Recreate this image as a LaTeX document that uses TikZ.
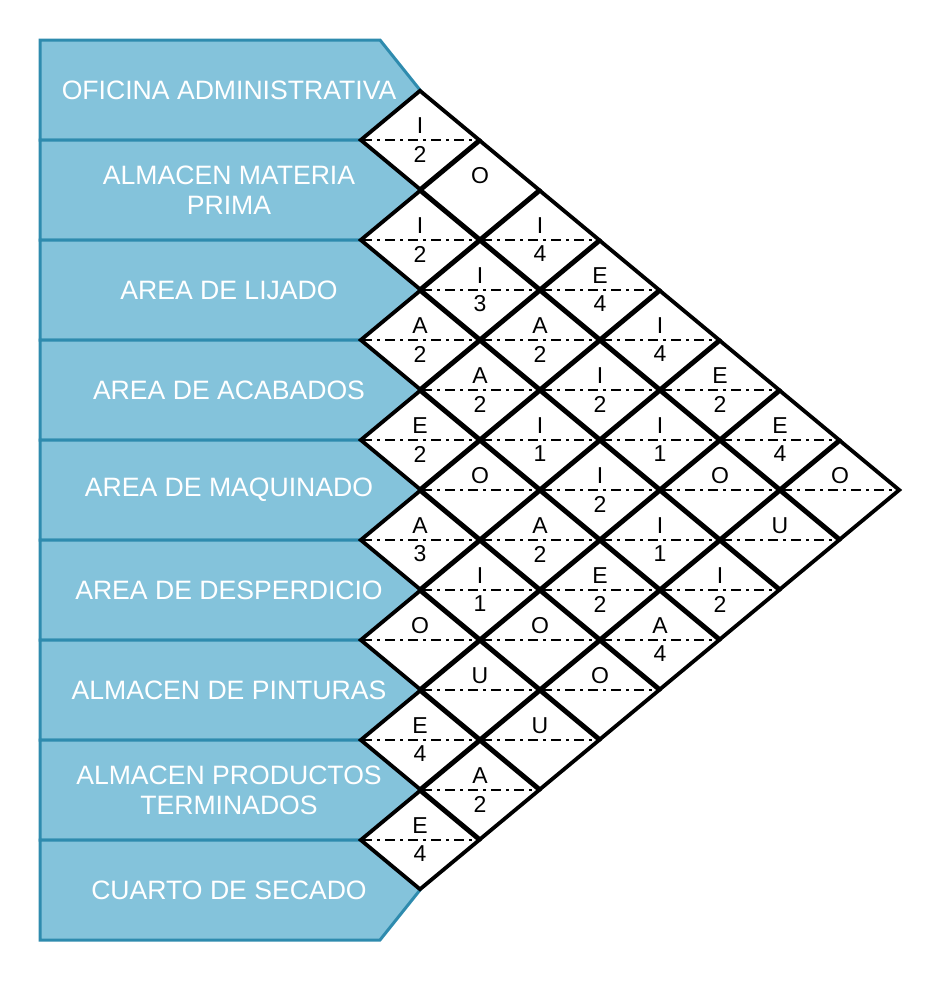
\documentclass[tikz,border=0pt]{standalone}
\usepackage{fontspec}
\setmainfont{Liberation Sans}
\usetikzlibrary{shapes.geometric,positioning}
\definecolor{boxfill}{RGB}{132,195,219}
\definecolor{boxline}{RGB}{46,139,174}

\begin{document}
\begin{tikzpicture}[x=0.5pt,y=-0.5pt,
  dept/.style={draw=boxline, fill=boxfill, line width=1.5pt},
  depttext/.style={text=white, align=center, inner sep=0pt, font=\fontsize{13.3}{15}\selectfont},
  rel/.style={diamond, draw, fill=white, line width=1.9pt, minimum width=60pt, minimum height=50pt, inner sep=0pt},
  relline/.style={line width=1.1pt, dash pattern=on 5pt off 2.5pt on 1.5pt off 2.5pt, shorten <=2pt, shorten >=2pt},
  reltext/.style={inner sep=0pt, font=\fontsize{11.5}{13}\selectfont}]
\useasboundingbox (0,0) rectangle (940,981);
\foreach \k/\name in {1/OFICINA ADMINISTRATIVA, 2/ALMACEN MATERIA\\PRIMA, 3/AREA DE LIJADO,
  4/AREA DE ACABADOS, 5/AREA DE MAQUINADO, 6/AREA DE DESPERDICIO, 7/ALMACEN DE PINTURAS,
  8/ALMACEN PRODUCTOS\\TERMINADOS, 9/CUARTO DE SECADO}
{
  \pgfmathsetmacro{\y}{40+100*(\k-1)}
  \draw[dept] (40,\y) -- (380,\y) -- (420,\y+50) -- (380,\y+100) -- (40,\y+100) -- cycle;
  \node[depttext] (dep\k) at (229,\y+50) {\name};
}
\foreach \i/\j/\r/\n in {1/2/I/2, 1/3/O/{}, 1/4/I/4, 1/5/E/4, 1/6/I/4, 1/7/E/2, 1/8/E/4, 1/9/O/{},
  2/3/I/2, 2/4/I/3, 2/5/A/2, 2/6/I/2, 2/7/I/1, 2/8/O/{}, 2/9/U/{},
  3/4/A/2, 3/5/A/2, 3/6/I/1, 3/7/I/2, 3/8/I/1, 3/9/I/2,
  4/5/E/2, 4/6/O/{}, 4/7/A/2, 4/8/E/2, 4/9/A/4,
  5/6/A/3, 5/7/I/1, 5/8/O/{}, 5/9/O/{},
  6/7/O/{}, 6/8/U/{}, 6/9/U/{},
  7/8/E/4, 7/9/A/2,
  8/9/E/4}
{
  \pgfmathsetmacro{\cx}{420+60*(\j-\i-1)}
  \pgfmathsetmacro{\cy}{40+50*(\i+\j-1)}
  \node[rel] (d\i\j) at (\cx,\cy) {};
  \ifnum\i\j=13 \else \draw[relline] (d\i\j.west) -- (d\i\j.east); \fi
  \node[reltext] (r\i\j) at (\cx,\cy-14) {\r};
  \node[reltext] (n\i\j) at (\cx,\cy+14) {\n};
}
\end{tikzpicture}
\end{document}
